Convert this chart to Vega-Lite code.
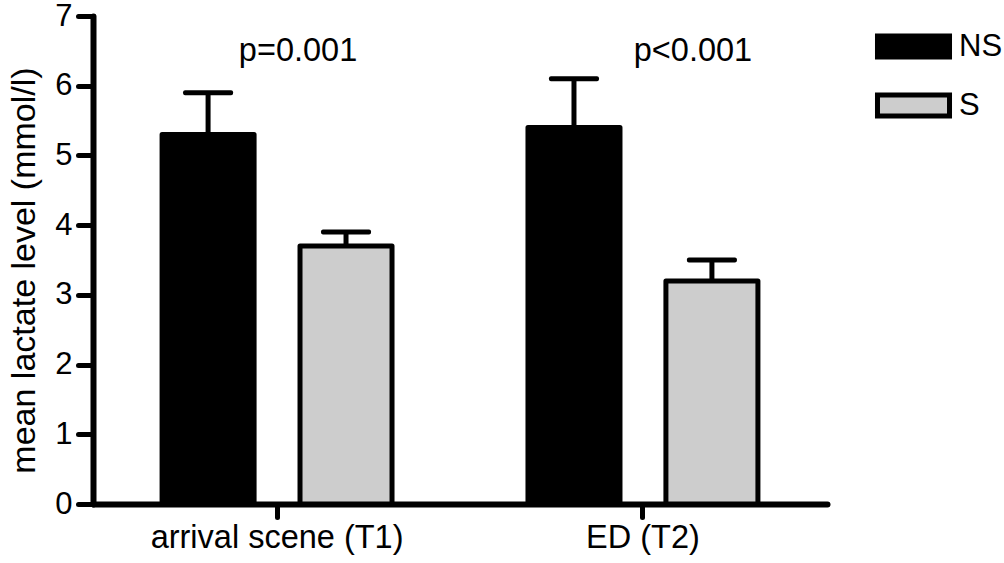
{
  "$schema": "https://vega.github.io/schema/vega-lite/v6.json",
  "width": 734,
  "height": 488,
  "autosize": {"type": "none"},
  "padding": {"left": 93, "top": 16, "right": 177, "bottom": 59},
  "background": "white",
  "config": {"view": {"stroke": null}, "font": "Liberation Sans"},
  "datasets": {
    "bars": [
      {"time": "arrival scene (T1)", "group": "NS", "mean": 5.3, "upper": 5.9},
      {"time": "arrival scene (T1)", "group": "S", "mean": 3.7, "upper": 3.9},
      {"time": "ED (T2)", "group": "NS", "mean": 5.4, "upper": 6.1},
      {"time": "ED (T2)", "group": "S", "mean": 3.2, "upper": 3.5}
    ],
    "pvals": [
      {"time": "arrival scene (T1)", "label": "p=0.001", "y": 6.36},
      {"time": "ED (T2)", "label": "p<0.001", "y": 6.36}
    ]
  },
  "encoding": {
    "x": {
      "field": "time", "type": "nominal", "sort": ["arrival scene (T1)", "ED (T2)"],
      "scale": {"paddingInner": 0.358, "paddingOuter": 0.182},
      "axis": {
        "title": null, "labelAngle": 0, "labelFontSize": 32.5, "labelColor": "black", "labelFont": "Liberation Sans",
        "labelLimit": 0,
        "domainColor": "black", "domainWidth": 6, "domainCap": "round",
        "tickColor": "black", "tickWidth": 5, "tickSize": 13, "tickCap": "round", "labelPadding": 4
      }
    },
    "y": {
      "type": "quantitative",
      "scale": {"domain": [0, 7], "nice": false},
      "axis": {
        "title": "mean lactate level (mmol/l)", "titleFontSize": 34, "titleFontWeight": "normal", "titleColor": "black",
        "titleFont": "Liberation Sans", "titlePadding": 13, "titleY": 254,
        "values": [0, 1, 2, 3, 4, 5, 6, 7], "grid": false,
        "labelFontSize": 31, "labelColor": "black", "labelFont": "Liberation Sans", "labelPadding": 6,
        "domainColor": "black", "domainWidth": 6, "domainCap": "round",
        "tickColor": "black", "tickWidth": 5, "tickSize": 15, "tickCap": "round"
      }
    }
  },
  "layer": [
    {
      "data": {"name": "bars"},
      "mark": {"type": "rule", "strokeWidth": 5, "color": "black"},
      "encoding": {
        "xOffset": {"field": "group", "type": "nominal", "scale": {"paddingInner": 0.333, "paddingOuter": 0.018}},
        "y": {"field": "mean", "type": "quantitative"},
        "y2": {"field": "upper"}
      }
    },
    {
      "data": {"name": "bars"},
      "mark": {"type": "tick", "size": 50, "thickness": 5, "color": "black", "opacity": 1, "cornerRadius": 2},
      "encoding": {
        "xOffset": {"field": "group", "type": "nominal"},
        "y": {"field": "upper", "type": "quantitative"}
      }
    },
    {
      "data": {"name": "bars"},
      "mark": {"type": "bar", "stroke": "black", "strokeWidth": 5, "strokeJoin": "round", "fillOpacity": 1},
      "encoding": {
        "xOffset": {"field": "group", "type": "nominal"},
        "y": {"field": "mean", "type": "quantitative"},
        "fill": {
          "field": "group", "type": "nominal",
          "scale": {"domain": ["NS", "S"], "range": ["#000000", "#cdcdcd"]},
          "legend": {
            "title": null, "orient": "none", "legendX": 805, "legendY": 15,
            "symbolType": "M-3.43,-1H3.43V1H-3.43Z", "symbolSize": 441,
            "symbolStrokeColor": "black", "symbolStrokeWidth": 5, "symbolOpacity": 1,
            "labelFontSize": 31, "labelFont": "Liberation Sans", "labelColor": "black",
            "labelOffset": 30, "rowPadding": 18
          }
        }
      }
    },
    {
      "data": {"name": "pvals"},
      "transform": [{"filter": "datum.label == 'p=0.001'"}],
      "mark": {"type": "text", "fontSize": 32.5, "font": "Liberation Sans", "color": "black", "baseline": "alphabetic", "align": "center", "dx": 21},
      "encoding": {
        "y": {"field": "y", "type": "quantitative"},
        "text": {"field": "label"}
      }
    },
    {
      "data": {"name": "pvals"},
      "transform": [{"filter": "datum.label == 'p<0.001'"}],
      "mark": {"type": "text", "fontSize": 32.5, "font": "Liberation Sans", "color": "black", "baseline": "alphabetic", "align": "center", "dx": 50},
      "encoding": {
        "y": {"field": "y", "type": "quantitative"},
        "text": {"field": "label"}
      }
    }
  ]
}
